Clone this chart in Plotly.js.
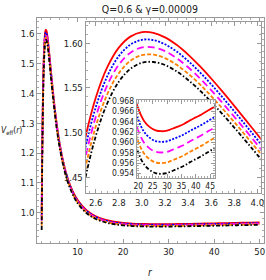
<!DOCTYPE html>
<html><head><meta charset="utf-8">
<script src="https://cdn.plot.ly/plotly-3.0.1.min.js"></script>
<style>html,body{margin:0;padding:0;background:#fff}#chart{width:266px;height:280px}</style>
</head><body><div id="chart"></div>
<script>
// radial coordinate r
const r = [2.1,2.2,2.3,2.4,2.5,2.6,2.7,2.8,2.9,3.0,3.1,3.2,3.3,3.4,3.5,3.6,3.7,3.8,3.9,4.0,4.2,4.5,5,5.5,6,7,8,9,10,12,14,16,18,20,22,24,26,28,30,32,34,36,38,40,42,44,46,48,50];
// V_eff(r) for the five curves
const vRed = [1.0041,1.1850,1.3190,1.4174,1.4887,1.5390,1.5733,1.5952,1.6075,1.6125,1.6117,1.6067,1.5983,1.5874,1.5747,1.5606,1.5456,1.5300,1.5140,1.4979,1.4657,1.4189,1.3482,1.2880,1.2377,1.1610,1.1076,1.0699,1.0427,1.0081,0.9886,0.9772,0.97046,0.96651,0.96414,0.96294,0.96232,0.96215,0.96226,0.96267,0.96310,0.96360,0.96425,0.96482,0.96539,0.96606,0.96671,0.96725,0.96777];
const vBlue = [0.9887,1.1708,1.3058,1.4051,1.4772,1.5283,1.5632,1.5857,1.5985,1.6039,1.6036,1.5989,1.5909,1.5803,1.5679,1.5541,1.5393,1.5239,1.5081,1.4922,1.4604,1.4140,1.3439,1.2841,1.2341,1.1578,1.1047,1.0672,1.0401,1.0057,0.9863,0.9750,0.96830,0.96438,0.96204,0.96086,0.96025,0.96009,0.96021,0.96063,0.96107,0.96157,0.96223,0.96280,0.96338,0.96405,0.96470,0.96524,0.96577];
const vMagenta = [0.9733,1.1566,1.2927,1.3929,1.4658,1.5175,1.5531,1.5761,1.5895,1.5954,1.5954,1.5912,1.5835,1.5732,1.5611,1.5475,1.5330,1.5178,1.5023,1.4865,1.4550,1.4091,1.3395,1.2801,1.2305,1.1546,1.1018,1.0645,1.0376,1.0033,0.9840,0.9728,0.96614,0.96225,0.95994,0.95878,0.95818,0.95803,0.95816,0.95859,0.95904,0.95954,0.96021,0.96078,0.96137,0.96204,0.96269,0.96323,0.96377];
const vOrange = [0.9579,1.1424,1.2795,1.3806,1.4543,1.5068,1.5430,1.5666,1.5804,1.5868,1.5873,1.5834,1.5760,1.5661,1.5543,1.5410,1.5267,1.5118,1.4964,1.4809,1.4497,1.4042,1.3352,1.2762,1.2268,1.1514,1.0989,1.0618,1.0350,1.0009,0.9818,0.9706,0.96398,0.96012,0.95784,0.95670,0.95611,0.95597,0.95611,0.95655,0.95701,0.95751,0.95819,0.95876,0.95936,0.96003,0.96068,0.96122,0.96177];
const vBlack = [0.9425,1.1282,1.2663,1.3684,1.4429,1.4960,1.5329,1.5571,1.5714,1.5783,1.5791,1.5757,1.5686,1.5590,1.5475,1.5344,1.5204,1.5057,1.4905,1.4752,1.4443,1.3993,1.3308,1.2722,1.2232,1.1482,1.0960,1.0591,1.0324,0.9985,0.9795,0.9684,0.96182,0.95799,0.95574,0.95462,0.95404,0.95391,0.95406,0.95451,0.95498,0.95548,0.95617,0.95674,0.95735,0.95802,0.95867,0.95921,0.95977];

// tick values
const mainXTicks = [10,20,30,40,50];
const mainYTicks = [1.0,1.1,1.2,1.3,1.4,1.5,1.6];
const in1XTicks = [2.6,2.8,3.0,3.2,3.4,3.6,3.8,4.0];
const in1YTicks = [1.45,1.50,1.55,1.60];
const in2XTicks = [20,25,30,35,40,45];
const in2YTicks = [0.954,0.956,0.958,0.960,0.962,0.964,0.966,0.968];

const titleText = 'Q=0.6 &amp; γ=0.00009';

const FONT = '"Liberation Sans Narrow", "DejaVu Sans Condensed", "Arial Narrow", sans-serif';
const series = [
  {y: vRed, color: '#ff0000', dash: 'solid'},
  {y: vBlue, color: '#0000ff', dash: '2px,1.5px'},
  {y: vMagenta, color: '#ff00ff', dash: '7px,4px'},
  {y: vOrange, color: '#ff8000', dash: '4px,2px'},
  {y: vBlack, color: '#000000', dash: '4px,2px,1.5px,2px'}
];
const subplots = [['x','y'],['x2','y2'],['x3','y3']];
const traces = [];
subplots.forEach(([xa, ya]) => {
  series.forEach(s => traces.push({
    x: r, y: s.y, xaxis: xa, yaxis: ya, type: 'scatter', mode: 'lines',
    line: {color: s.color, width: 1.8, dash: s.dash, shape: 'spline', smoothing: 1},
    hoverinfo: 'skip', showlegend: false
  }));
});

function ax(domain, range, tickvals, fmt, minorDtick, size, anchor) {
  return {
    domain: domain, range: range, anchor: anchor,
    tickmode: 'array', tickvals: tickvals, tickformat: fmt,
    ticks: 'inside', ticklen: 4, tickwidth: 1, tickcolor: '#999',
    showline: true, linecolor: '#999', linewidth: 1, mirror: 'ticks',
    showgrid: false, zeroline: false,
    tickfont: {family: FONT, size: size, color: '#222'},
    minor: {dtick: minorDtick, ticks: 'inside', ticklen: 2, tickwidth: 1, tickcolor: '#aaa', showgrid: false}
  };
}
const W = 266, H = 280;
const px = v => v / W, py = v => 1 - v / H;

const layout = {
  width: W, height: H,
  margin: {l: 0, r: 0, t: 0, b: 0},
  paper_bgcolor: '#fff', plot_bgcolor: '#fff',
  showlegend: false,
  title: {text: titleText, x: px(150), y: py(9.5), xanchor: 'center', yanchor: 'middle', xref: 'paper', yref: 'paper',
          font: {family: FONT, size: 10.5, color: '#222'}},
  xaxis: ax([px(37.3), px(264)], [1.14, 50.96], mainXTicks, 'd', 2, 9.5, 'y'),
  yaxis: ax([py(242.7), py(18)], [0.900, 1.652], mainYTicks, '.1f', 0.02, 9.5, 'x'),
  xaxis2: ax([px(85.7), px(260.7)], [2.513, 4.029], in1XTicks, '.1f', 0.05, 9.5, 'y2'),
  yaxis2: ax([py(193.3), py(21.7)], [1.4321, 1.6242], in1YTicks, '.2f', 0.01, 9.5, 'x2'),
  xaxis3: ax([px(136.7), px(214.5)], [19.44, 46.5], in2XTicks, 'd', 1, 8.5, 'y3'),
  yaxis3: ax([py(178), py(100)], [0.9531, 0.96819], in2YTicks, '.3f', 0.0005, 8.5, 'x3'),
  annotations: [
    {text: '<i>V</i><sub>eff</sub>(<i>r</i>)', x: px(11), y: py(130), xref: 'paper', yref: 'paper',
     xanchor: 'center', yanchor: 'middle', showarrow: false, font: {family: FONT, size: 8.5, color: '#222'}},
    {text: '<i>r</i>', x: px(150), y: py(272), xref: 'paper', yref: 'paper',
     xanchor: 'center', yanchor: 'middle', showarrow: false, font: {family: FONT, size: 10, color: '#222'}}
  ]
};
Plotly.newPlot('chart', traces, layout, {staticPlot: true, displayModeBar: false});
</script>
</body></html>
